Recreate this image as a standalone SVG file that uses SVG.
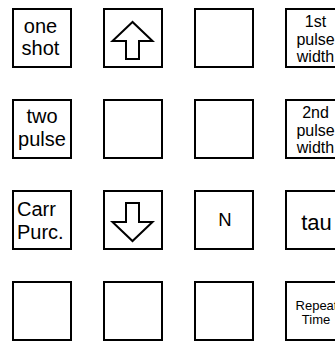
<svg xmlns="http://www.w3.org/2000/svg" width="335" height="341" viewBox="0 0 335 341">
<style>
.key{fill:#fff;stroke:#000;stroke-width:2}
.arr{fill:#fff;stroke:#000;stroke-width:2;stroke-linejoin:miter}
text{font-family:"Liberation Sans",Arial,sans-serif;fill:#000}
.t20{font-size:20px;text-anchor:middle}
.t16{font-size:16px;text-anchor:middle}
</style>
<rect width="335" height="341" fill="#fff"/>
<g id="one-shot"><rect class="key" x="13" y="9" width="58" height="58"/><text class="t20" x="40.5" y="32.5">one</text><text class="t20" x="40.5" y="55">shot</text></g>
<g id="up"><rect class="key" x="104" y="9" width="58" height="58"/><polygon class="arr" points="132.5,22 112.5,41 126,41 126,59 139,59 139,41 152.5,41"/></g>
<g id="blank-r1c3"><rect class="key" x="195" y="9" width="58" height="58"/></g>
<g id="first-pulse"><rect class="key" x="286" y="9" width="58" height="58"/><text class="t16" x="315.5" y="27">1st</text><text class="t16" x="315.5" y="44.5">pulse</text><text class="t16" x="315.5" y="62">width</text></g>

<g id="two-pulse"><rect class="key" x="13" y="100" width="58" height="58"/><text class="t20" x="42" y="122.5">two</text><text class="t20" x="42" y="146">pulse</text></g>
<g id="blank-r2c2"><rect class="key" x="104" y="100" width="58" height="58"/></g>
<g id="blank-r2c3"><rect class="key" x="195" y="100" width="58" height="58"/></g>
<g id="second-pulse"><rect class="key" x="286" y="100" width="58" height="58"/><text class="t16" x="315.5" y="118">2nd</text><text class="t16" x="315.5" y="135.5">pulse</text><text class="t16" x="315.5" y="153">width</text></g>

<g id="carr-purc"><rect class="key" x="13" y="191" width="58" height="58"/><text style="font-size:20px" x="17" y="215.5">Carr</text><text style="font-size:20px" x="17" y="238.5">Purc.</text></g>
<g id="down"><rect class="key" x="104" y="191" width="58" height="58"/><polygon class="arr" points="126,203 139,203 139,222 152.5,222 132.5,241 112.5,222 126,222"/></g>
<g id="n"><rect class="key" x="195" y="191" width="58" height="58"/><text style="font-size:18.5px;text-anchor:middle" x="225" y="226">N</text></g>
<g id="tau"><rect class="key" x="286" y="191" width="58" height="58"/><text style="font-size:22px;text-anchor:middle" x="316.5" y="230">tau</text></g>

<g id="blank-r4c1"><rect class="key" x="13" y="282" width="58" height="58"/></g>
<g id="blank-r4c2"><rect class="key" x="104" y="282" width="58" height="58"/></g>
<g id="blank-r4c3"><rect class="key" x="195" y="282" width="58" height="58"/></g>
<g id="repeat-time"><rect class="key" x="286" y="282" width="58" height="58"/><text style="font-size:13px;text-anchor:middle" x="316.5" y="310">Repeat</text><text style="font-size:13px;text-anchor:middle" x="316" y="324">Time</text></g>
</svg>
